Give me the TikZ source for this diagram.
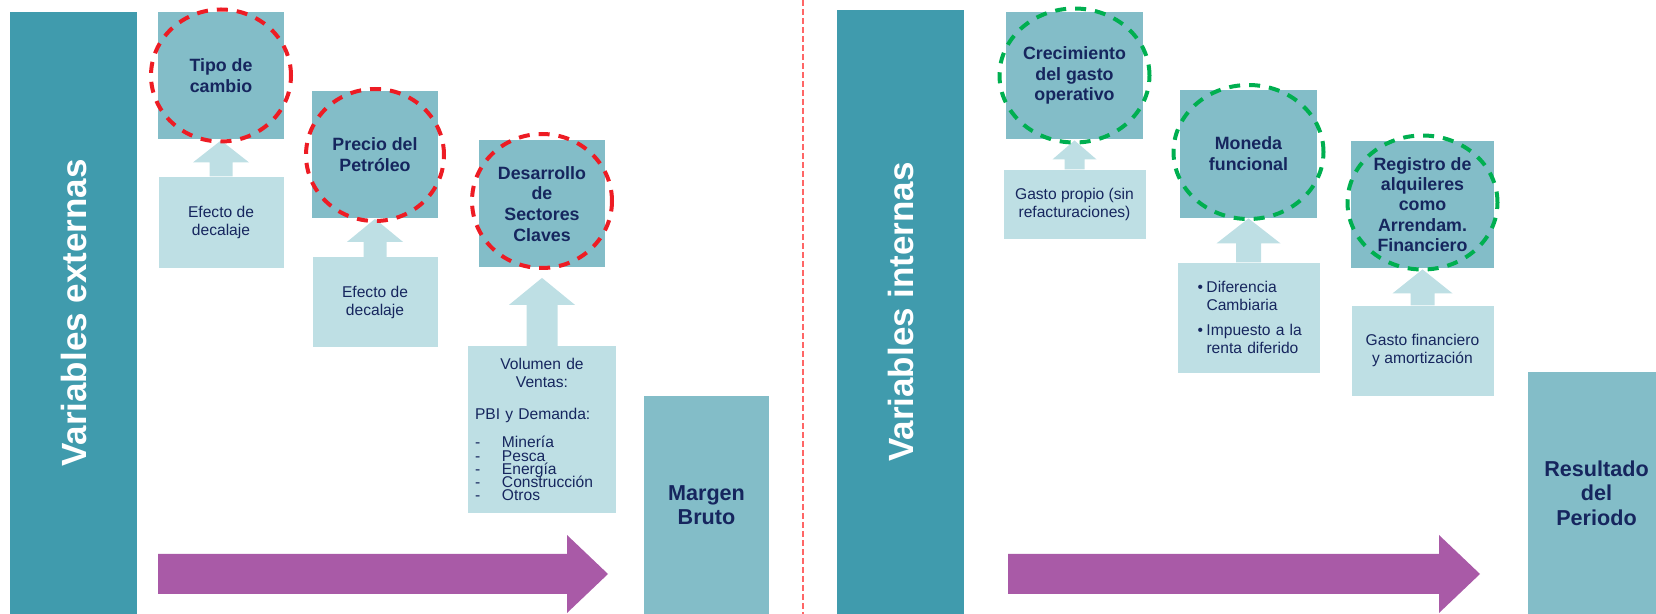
\documentclass[tikz,border=0pt]{standalone}
\usepackage{fontspec}
\setmainfont{Liberation Sans}
\usetikzlibrary{positioning, calc}
\definecolor{barteal}{RGB}{64,155,173}
\definecolor{boxteal}{RGB}{131,189,200}
\definecolor{drivelight}{RGB}{190,223,228}
\definecolor{inknavy}{RGB}{22,38,94}
\definecolor{flowpurple}{RGB}{169,90,167}
\definecolor{ringred}{RGB}{237,28,36}
\definecolor{ringgreen}{RGB}{0,175,80}
\setlength{\parindent}{0pt}
\tikzset{
  varbar/.style={fill=barteal, text=white, font=\fontsize{17.5pt}{21pt}\selectfont\bfseries, inner sep=0pt, rotate=90},
  factor/.style={fill=boxteal, text=inknavy, font=\fontsize{8.9pt}{10.4pt}\selectfont\bfseries, align=center, inner sep=0pt, minimum width=63pt, minimum height=63.5pt},
  driver/.style={fill=drivelight, text=inknavy, font=\fontsize{7.8pt}{9pt}\selectfont, align=center, inner sep=0pt},
  outcome/.style={factor, font=\fontsize{10.8pt}{12.3pt}\selectfont\bfseries},
  redring/.style={draw=ringred, line width=2pt, dash pattern=on 5.5pt off 4.5pt},
  greenring/.style={redring, draw=ringgreen},
  lifter/.style={fill=drivelight},
  flow/.style={fill=flowpurple},
  divider/.style={draw=red!60, line width=0.7pt, dash pattern=on 3pt off 1.5pt},
}
% block arrow from a driver box up to its factor: from, to, head half, shaft half, head length, gap
\newcommand{\liftarrow}[6]{%
  \coordinate (tip) at ($(#1.north |- #2.south)+(0,#6)$);
  \fill[lifter] ($(#1.north)+(-#4,0)$) -- ($(tip)+(-#4,#5)$) -- ($(tip)+(-#3,#5)$) -- (tip)
    -- ($(tip)+(#3,#5)$) -- ($(tip)+(#4,#5)$) -- ($(#1.north)+(#4,0)$) -- cycle;}
\newcommand{\flowarrow}[2]{%
  \fill[flow] ($(#1)+(0,-20)$) -- ($(#2)+(-41,-20)$) -- ($(#2)+(-41,-39)$) -- (#2)
    -- ($(#2)+(-41,39)$) -- ($(#2)+(-41,20)$) -- ($(#1)+(0,20)$) -- cycle;}

\begin{document}
\begin{tikzpicture}[x=0.5pt, y=-0.5pt]
  \useasboundingbox (0,0) rectangle (1656,614);
  % external variables
  \node[varbar, minimum width=301pt, minimum height=63.5pt] (extbar) at (73.5,313) {Variables externas};
  \node[factor] (tipo) at (221,75.5) {Tipo de\\cambio};
  \node[factor] (precio) at (375,155) {Precio del\\Petróleo};
  \node[factor] (desarr) at (542,204) {Desarrollo\\de\\Sectores\\Claves};
  \node[driver, minimum width=62.5pt, minimum height=45.5pt, below=18.5pt of tipo] (efecto1) {Efecto de\\decalaje};
  \node[driver, minimum width=62.5pt, minimum height=45pt, below=19pt of precio] (efecto2) {Efecto de\\decalaje};
  \node[driver, align=left, text width=67pt, inner xsep=3.5pt, minimum height=83.5pt, below=39pt of desarr] (vol) {%
    {\centering Volumen de\\Ventas:\par}
    \vspace{7pt}
    PBI y Demanda:\par
    \vspace{7.4pt}
    {\lineskiplimit=-5pt\baselineskip=6.6pt
    \makebox[13.5pt][l]{-}Minería\\
    \makebox[13.5pt][l]{-}Pesca\\
    \makebox[13.5pt][l]{-}Energía\\
    \makebox[13.5pt][l]{-}Construcción\\
    \makebox[13.5pt][l]{-}Otros\par}};
  \node[outcome, minimum width=62.5pt, minimum height=109pt] (margen) at (706.5,505) {Margen\\Bruto};
  \coordinate (flowL0) at (158,574);
  \coordinate (flowL1) at (608,574);
  \flowarrow{flowL0}{flowL1}
  \liftarrow{efecto1}{tipo}{28}{11.5}{22}{1}
  \liftarrow{efecto2}{precio}{28}{11.5}{23}{0}
  \liftarrow{vol}{desarr}{33}{15.5}{27}{10}
  \draw[redring] (tipo.center) ellipse [x radius=35pt, y radius=33pt];
  \draw[redring] (precio.center) ellipse [x radius=34.5pt, y radius=33pt];
  \draw[redring] ($(desarr.center)+(0,-3)$) ellipse [x radius=35pt, y radius=33.5pt];
  % divider
  \coordinate (divtop) at (803,0);
  \coordinate (divbot) at (803,614);
  \draw[divider] (divtop) -- (divbot);
  % internal variables
  \node[varbar, minimum width=302pt, minimum height=63.5pt] (intbar) at (900.5,312) {Variables internas};
  \node[factor, minimum width=68.5pt] (crec) at (1074.5,75.5) {Crecimiento\\del gasto\\operativo};
  \node[factor, minimum width=68.5pt, minimum height=64pt] (moneda) at (1248.5,154) {Moneda\\funcional};
  \node[factor, minimum width=71.5pt, font=\fontsize{8.9pt}{10.2pt}\selectfont\bfseries] (regis) at (1422.5,204.5) {Registro de\\alquileres\\como\\Arrendam.\\Financiero};
  \node[driver, minimum width=71pt, minimum height=34.5pt, below=15pt of crec] (gpropio) {Gasto propio (sin\\refacturaciones)};
  \node[driver, align=left, text width=56pt, minimum width=71pt, minimum height=55pt, below=22pt of moneda] (difer) {%
    \hspace*{2.5pt}\makebox[4.5pt][l]{•}Diferencia\\
    \hspace*{7pt}Cambiaria\par\vspace{3.5pt}
    \hspace*{2.5pt}\makebox[4.5pt][l]{•}Impuesto~a~la\\
    \hspace*{7pt}renta~diferido};
  \node[driver, minimum width=71pt, minimum height=45pt, below=18.5pt of regis] (gfin) {Gasto financiero\\y amortización};
  \node[outcome, minimum width=68.5pt, minimum height=121pt] (result) at (1596.5,493) {Resultado\\del\\Periodo};
  \coordinate (flowR0) at (1008,574);
  \coordinate (flowR1) at (1480,574);
  \flowarrow{flowR0}{flowR1}
  \liftarrow{gpropio}{crec}{22}{10}{19}{1}
  \liftarrow{difer}{moneda}{32}{12.5}{25}{0}
  \liftarrow{gfin}{regis}{30}{12}{24}{1}
  \draw[greenring] (crec.center) ellipse [x radius=37.5pt, y radius=33.5pt];
  \draw[greenring] ($(moneda.center)+(0,-2)$) ellipse [x radius=37.5pt, y radius=33.5pt];
  \draw[greenring] ($(regis.center)+(0,-2)$) ellipse [x radius=37.5pt, y radius=33.5pt];
\end{tikzpicture}
\end{document}
